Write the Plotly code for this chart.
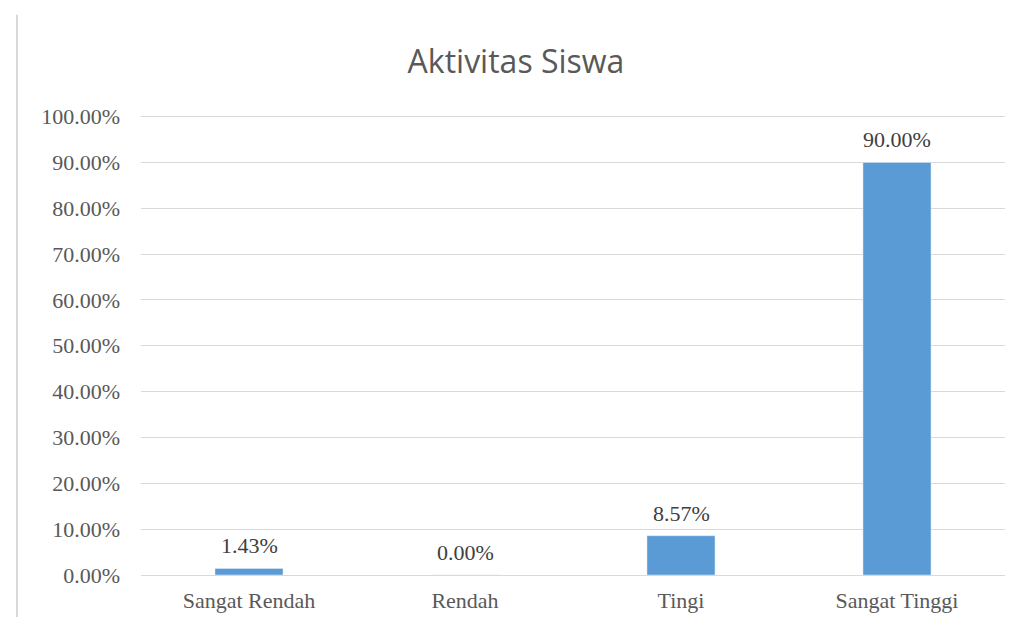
import plotly.graph_objects as go

kategori = ["Sangat Rendah", "Rendah", "Tingi", "Sangat Tinggi"]
persen = [0.0143, 0.0, 0.0857, 0.90]
tick_vals = [0, 0.1, 0.2, 0.3, 0.4, 0.5, 0.6, 0.7, 0.8, 0.9, 1.0]

serif = "Liberation Serif, Times New Roman, serif"

fig = go.Figure()
fig.add_trace(go.Bar(
    x=kategori, y=persen,
    marker_color="#5B9BD5",
    width=0.315,
))

# label nilai di atas batang
for k, p in zip(kategori, persen):
    fig.add_annotation(x=k, y=p, text=f"{p * 100:.2f}%", showarrow=False,
                       yanchor="bottom", yshift=8,
                       font=dict(family=serif, size=22, color="#404040"))

# garis tepi kiri
fig.add_shape(type="line", xref="paper", yref="paper",
              x0=-0.1435, x1=-0.1435, y0=-0.11, y1=1.21,
              line=dict(color="#d9d9d9", width=2))

fig.update_layout(
    width=1016, height=617,
    margin=dict(l=133, r=19, t=104, b=50),
    plot_bgcolor="white", paper_bgcolor="white",
    showlegend=False,
    title=dict(text="Aktivitas Siswa", x=0.5, xanchor="center",
               y=1 - 54 / 617, yanchor="middle",
               font=dict(family="Open Sans", size=32, color="#595959")),
)
fig.update_yaxes(range=[0, 1.01], tickvals=tick_vals, tickformat=".2%",
                 showgrid=True, gridcolor="#d9d9d9", gridwidth=1,
                 zeroline=True, zerolinecolor="#d9d9d9", zerolinewidth=1,
                 showline=False, ticks="", ticklabelstandoff=20,
                 tickfont=dict(family=serif, size=22, color="#595959"))
fig.update_xaxes(showgrid=False, showline=False, ticks="", ticklabelstandoff=10,
                 tickfont=dict(family=serif, size=22, color="#595959"))

fig.write_html("out.html")
